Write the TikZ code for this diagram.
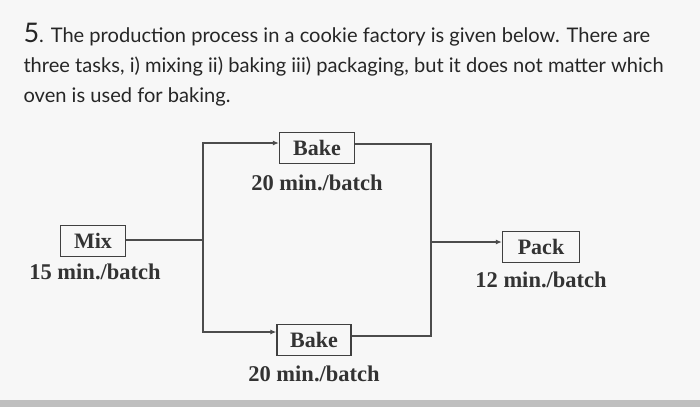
\documentclass[tikz,border=0pt]{standalone}
\usepackage{fontspec}
\setmainfont{Liberation Serif}
\newfontfamily\lato{Lato}
\usetikzlibrary{arrows.meta}
\begin{document}
\begin{tikzpicture}[x=1pt,y=-1pt,
  box/.style={draw=black!75,line width=1.3pt,minimum height=31pt,inner sep=0pt,font=\fontsize{22}{24}\selectfont\bfseries,text=black!80},
  lab/.style={font=\fontsize{22.5}{24}\selectfont\bfseries,text=black!80},
  ln/.style={draw=black!70,line width=1.4pt},
  arr/.style={ln,-{Latex[length=6pt,width=5pt]}},
  q/.style={font=\lato\fontsize{20.1}{22}\selectfont,text=black!85,anchor=west}]
\fill[black!3] (0,0) rectangle (700,407);
\fill[black!25] (0,400) rectangle (700,407);
\useasboundingbox (0,0) rectangle (700,407);
\node[q] (t1) at (20,35) {{\fontsize{27}{27}\selectfont 5}. The production process in a cookie factory is given below. There are};
\node[q] (t2) at (20,67) {three tasks, i) mixing ii) baking iii) packaging, but it does not matter which};
\node[q] (t3) at (20,97) {oven is used for baking.};
\node[box,minimum width=65pt] (mix) at (93,241) {Mix};
\node[lab] (mixl) at (95,272) {15 min./batch};
\node[box,minimum width=75pt] (b1) at (317,148) {Bake};
\node[lab] (b1l) at (317,183) {20 min./batch};
\node[box,minimum width=74pt] (b2) at (314,340) {Bake};
\node[lab] (b2l) at (314,374) {20 min./batch};
\node[box,minimum width=77pt] (pk) at (541,247) {Pack};
\node[lab] (pkl) at (541,280) {12 min./batch};
\coordinate (sl) at (203,240);
\coordinate (sr) at (431,242);
\draw[ln] (mix.east |- sl) -- (sl);
\draw[arr] (sl) -- (203,143) -- (b1.west |- 0,143);
\draw[arr] (sl) -- (203,332) -- (b2.west |- 0,332);
\draw[ln] (b1.east |- 0,144) -- (431,144) -- (431,336) -- (b2.east |- 0,336);
\draw[arr] (sr) -- (pk.west |- sr);
\end{tikzpicture}
\end{document}
